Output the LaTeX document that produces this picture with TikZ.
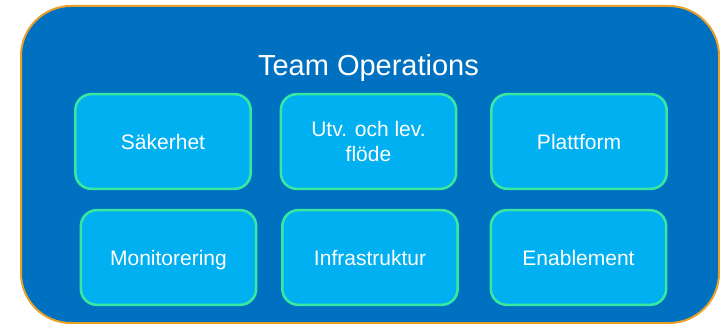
\documentclass[tikz,border=0pt]{standalone}
\usepackage{xcolor}
\usepackage{fontspec}
\setmainfont{Liberation Sans}
\usepackage{tikz}

\definecolor{opsblue}{RGB}{0,112,192}
\definecolor{opsorange}{RGB}{232,160,40}
\definecolor{teamcyan}{RGB}{0,176,240}
\definecolor{teamgreen}{RGB}{56,232,160}

\begin{document}
\begin{tikzpicture}[x=0.75pt, y=-0.75pt,
        area/.style={draw=opsorange, fill=opsblue, line width=1.5pt, rounded corners=37.5pt},
        team/.style={draw=teamgreen, fill=teamcyan, line width=1.9pt, rounded corners=12pt,
            minimum width=131.5pt, minimum height=71pt, text=white, align=center,
            text depth=0pt, font=\fontsize{15.75}{18.75}\selectfont}]
        %\draw[help lines] (0,0) grid (720,324);
        \useasboundingbox (0,0) rectangle (720,324);
        \draw[area] (21,6) rectangle (719,323);
        \node[anchor=base, text=white, font=\fontsize{21.75}{26}\selectfont] (title) at (368.5,76) {Team Operations};
        \node[team] (sakerhet) at (163,141.5) {Säkerhet};
        \node[team] (flode) at (368.5,141.5) {Utv. och lev.\\flöde};
        \node[team] (plattform) at (579,141.5) {Plattform};
        \node[team] (monitor) at (168.5,257.5) {Monitorering};
        \node[team] (infra) at (370,257.5) {Infrastruktur};
        \node[team] (enable) at (578.5,257.5) {Enablement};
    \end{tikzpicture}
\end{document}
